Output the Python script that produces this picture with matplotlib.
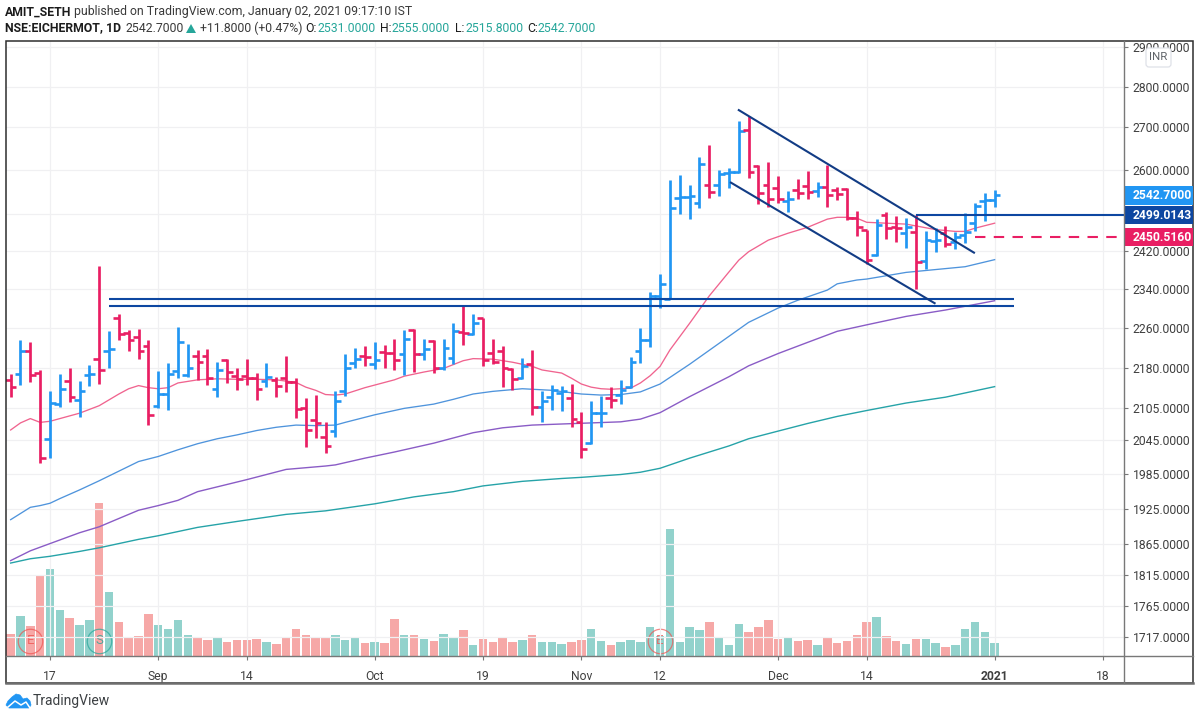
import matplotlib
matplotlib.use("Agg")
import matplotlib.pyplot as plt
from matplotlib.patches import Rectangle, FancyBboxPatch, Polygon
import numpy as np

plt.rcParams['font.family'] = ['Roboto', 'DejaVu Sans']

# daily bars, index 0 = 17 Aug 2020, first bar is index -4
bar_index = list(range(-4, 97))
opens = [2158, 2169, 2213, 2171, 2047, 2112, 2155, 2120, 2168, 2199, 2213, 2279, 2249, 2241, 2224, 2109, 2131, 2175, 2167, 2204,
         2204, 2140, 2197, 2166, 2166, 2161, 2155, 2158, 2161, 2153, 2104, 2083, 2052, 2063, 2136, 2190, 2204, 2188, 2212, 2211,
         2208, 2255, 2209, 2234, 2180, 2201, 2251, 2247, 2279, 2211, 2213, 2178, 2161, 2188, 2107, 2125, 2132, 2124, 2078, 2040,
         2095, 2123, 2130, 2144, 2213, 2235, 2325, 2318, 2537, 2538, 2526, 2566, 2566, 2594, 2596, 2694, 2610, 2566, 2558, 2529,
         2554, 2563, 2552, 2560, 2554, 2556, 2491, 2465, 2411, 2498, 2471, 2458, 2460, 2398, 2442, 2459, 2439, 2454, 2480, 2529, 2531]
highs = [2169, 2236, 2231, 2177, 2137, 2169, 2180, 2155, 2186, 2388, 2253, 2288, 2256, 2257, 2235, 2175, 2190, 2261, 2227, 2216,
         2217, 2193, 2198, 2180, 2198, 2171, 2190, 2164, 2204, 2162, 2123, 2130, 2079, 2137, 2209, 2219, 2224, 2231, 2226, 2237,
         2256, 2257, 2237, 2235, 2237, 2269, 2304, 2287, 2279, 2237, 2223, 2180, 2201, 2216, 2137, 2148, 2146, 2150, 2098, 2117,
         2128, 2144, 2157, 2203, 2259, 2333, 2370, 2577, 2589, 2565, 2631, 2658, 2600, 2605, 2716, 2728, 2611, 2619, 2586, 2552,
         2579, 2598, 2573, 2611, 2561, 2558, 2507, 2466, 2489, 2505, 2496, 2492, 2498, 2463, 2469, 2474, 2461, 2503, 2525, 2547, 2555]
lows = [2125, 2148, 2153, 2005, 2014, 2107, 2116, 2088, 2146, 2150, 2181, 2235, 2213, 2198, 2073, 2105, 2101, 2161, 2164, 2157,
        2148, 2125, 2152, 2139, 2148, 2119, 2145, 2125, 2134, 2086, 2033, 2050, 2022, 2051, 2128, 2180, 2184, 2179, 2181, 2176,
        2167, 2174, 2196, 2171, 2177, 2188, 2225, 2245, 2185, 2188, 2144, 2139, 2159, 2091, 2079, 2101, 2100, 2070, 2014, 2039,
        2070, 2104, 2112, 2143, 2191, 2222, 2301, 2318, 2501, 2489, 2513, 2535, 2540, 2558, 2594, 2581, 2522, 2515, 2524, 2505,
        2533, 2533, 2538, 2515, 2531, 2487, 2452, 2392, 2409, 2445, 2439, 2426, 2340, 2381, 2417, 2428, 2424, 2436, 2463, 2484, 2515.8]
closes = [2144, 2213, 2167, 2014, 2114, 2140, 2126, 2137, 2170, 2177, 2218, 2247, 2236, 2214, 2092, 2131, 2169, 2231, 2181, 2193,
          2162, 2177, 2174, 2159, 2161, 2140, 2164, 2146, 2153, 2102, 2064, 2077, 2035, 2118, 2180, 2199, 2202, 2197, 2210, 2196,
          2238, 2209, 2217, 2180, 2219, 2253, 2249, 2269, 2196, 2193, 2180, 2159, 2184, 2107, 2117, 2139, 2137, 2085, 2030, 2095,
          2096, 2120, 2139, 2193, 2235, 2325, 2350, 2513, 2539, 2541, 2615, 2549, 2590, 2596, 2692, 2596, 2547, 2534, 2533, 2533,
          2547, 2550, 2560, 2544, 2545, 2491, 2471, 2400, 2476, 2469, 2469, 2471, 2395, 2443, 2444, 2435, 2450, 2461, 2518, 2531, 2542.7]
volumes = [21.7, 40, 29.7, 79.7, 87.3, 45.7, 38.3, 30.7, 35.7, 153.3, 64, 33.7, 19, 20, 42.3, 30.7, 26.7, 35.7, 21, 19,
           16.3, 19, 13.7, 16.3, 16.3, 17.3, 14.3, 11.7, 18.3, 26.7, 21, 19, 19, 21, 16.3, 19, 13.3, 14.3, 13.3, 37.3,
           21, 21, 17.3, 15.3, 22, 19, 25.7, 11.3, 17.3, 14.3, 18.3, 14.3, 16.3, 21, 14.3, 14.3, 12.3, 14.3, 16.3, 26.7,
           15.3, 11.3, 14.3, 16.3, 14.3, 28.7, 20, 126.7, 14.3, 28.7, 25.7, 33.7, 19, 11.3, 32.3, 24, 28.7, 35.7, 17.3, 18.3,
           15.3, 16.3, 10.7, 18.3, 13.3, 15.3, 21, 33.7, 39.3, 20, 15.3, 12.3, 17.3, 17.3, 13.3, 8.7, 10.7, 26.7, 33.7, 24, 13.3]

# moving averages, read at knots
ma20_x = [-4, -3, -2, -1, 0, 1, 3, 5, 7, 8, 9, 10, 11, 12, 13, 15, 17, 19, 21, 23, 25, 26, 27, 28, 29, 30, 32, 35, 36, 38, 40, 42, 43, 45, 47, 49,
          50, 52, 53, 54, 55, 56, 57, 59, 60, 61, 62, 63, 65, 67, 69, 70, 71, 73, 75, 77, 79, 80, 81, 82, 83, 85, 87, 88, 90, 92, 93, 94, 96]
ma20_y = [2064, 2077, 2085, 2078, 2080, 2085, 2095, 2109, 2131, 2141, 2147, 2143, 2141, 2143, 2152, 2158, 2160, 2159, 2159, 2158, 2153, 2144, 2138, 2130, 2129, 2131, 2143, 2158, 2165, 2173, 2180, 2195, 2199, 2198, 2192, 2184,
          2177, 2171, 2161, 2150, 2144, 2141, 2140, 2142, 2152, 2166, 2184, 2216, 2269, 2325, 2375, 2400, 2418, 2443, 2458, 2471, 2489, 2493, 2493, 2491, 2482, 2480, 2478, 2474, 2466, 2462, 2462, 2469, 2480]
ma50_x = [-4, -2, -1, 0, 1, 3, 5, 9, 11, 13, 15, 17, 19, 21, 23, 25, 27, 29, 30, 33, 36, 39, 41, 43, 45, 48, 51, 54, 56, 58, 60, 62, 65, 69, 71, 74, 76, 79, 80, 82, 83, 87, 89, 93, 96]
ma50_y = [1906, 1927, 1930, 1934, 1942, 1957, 1973, 2007, 2016, 2028, 2039, 2048, 2055, 2063, 2069, 2073, 2072, 2073, 2078, 2092, 2104, 2112, 2121, 2131, 2136, 2141, 2138, 2131, 2129, 2130, 2135, 2150, 2188, 2243, 2271, 2300, 2316, 2337, 2350, 2358, 2360, 2374, 2378, 2386, 2401]
ma100_x = [-4, -2, -1, 3, 5, 7, 9, 11, 13, 15, 20, 24, 28, 29, 32, 35, 39, 43, 46, 49, 52, 55, 58, 60, 62, 65, 69, 71, 74, 77, 80, 83, 87, 91, 96]
ma100_y = [1838, 1854, 1860, 1884, 1894, 1908, 1922, 1930, 1939, 1954, 1975, 1993, 1999, 2001, 2013, 2024, 2040, 2059, 2068, 2073, 2075, 2077, 2079, 2084, 2096, 2126, 2164, 2185, 2209, 2231, 2253, 2266, 2283, 2296, 2315]
ma200_x = [-4, -2, 0, 3, 5, 9, 11, 15, 19, 24, 28, 33, 37, 41, 44, 48, 52, 54, 58, 60, 62, 65, 69, 71, 74, 77, 80, 83, 87, 91, 96]
ma200_y = [1834, 1841, 1845, 1853, 1859, 1873, 1879, 1893, 1903, 1915, 1921, 1933, 1945, 1954, 1964, 1972, 1977, 1979, 1984, 1988, 1995, 2013, 2035, 2048, 2062, 2076, 2089, 2100, 2114, 2125, 2145]

# drawn support levels and the falling channel
support_prices = [2318, 2304]
support_span = [6, 98]
channel_top_x = [70, 93.9]
channel_top_y = [2742, 2416]
channel_low_x = [69.2, 89.9]
channel_low_y = [2571, 2310]
breakout_price = 2499.0143
breakout_start = 88
stop_price = 2450.516
stop_start = 94
last_price = 2542.7

price_ticks = [2900, 2800, 2700, 2600, 2500, 2420, 2340, 2260, 2180, 2105, 2045, 1985, 1925, 1865, 1815, 1765, 1717]
date_ticks = [0, 11, 20, 33, 44, 54, 62, 74, 83, 96, 107]
date_labels = ['17', 'Sep', '14', 'Oct', '19', 'Nov', '12', 'Dec', '14', '2021', '18']

# earnings / split badges: bar index, letter, colour
badge_index = [-2, 5, 62]
badge_letter = ['E', 'S', 'E']
badge_color = ['#ef5350', '#26a69a', '#ef5350']

BLUE = '#2196f3'
RED = '#e91e63'
NAVY = '#0d47a1'
TEXT = '#3f3f3f'
W, H = 1200, 719

fig = plt.figure(figsize=(W / 100, H / 100), dpi=100, facecolor='white')
ax = fig.add_axes([6 / W, 1 - 656 / H, 1118 / W, 615 / H])
vol_ax = ax.twinx()
ax.set_zorder(2)
vol_ax.set_zorder(1)
ax.patch.set_visible(False)

x = np.array(bar_index)
o, h, l, c = map(np.array, (opens, highs, lows, closes))
up = c >= o

# volume pane under the prices
vol_ax.bar(x[up], np.array(volumes)[up], width=0.86, color='#26a69a', alpha=0.5, linewidth=0)
vol_ax.bar(x[~up], np.array(volumes)[~up], width=0.86, color='#ef5350', alpha=0.5, linewidth=0)
vol_ax.set_ylim(0, 615)
vol_ax.set_yticks([])
for i, letter, col in zip(badge_index, badge_letter, badge_color):
    vol_ax.plot([i], [15], marker='o', ms=17.6, mfc='none', mec=col, mew=0.9, alpha=0.7, ls='none')
    vol_ax.text(i, 15, letter, color=col, fontsize=9.5, ha='center', va='center', alpha=0.8)

# moving averages
ax.plot(ma20_x, ma20_y, color='#f0648f', lw=0.95, zorder=3)
ax.plot(ma50_x, ma50_y, color='#4f94dc', lw=0.95, zorder=3)
ax.plot(ma100_x, ma100_y, color='#8a5cc6', lw=1.0, zorder=3)
ax.plot(ma200_x, ma200_y, color='#26a3a8', lw=1.0, zorder=3)

# ohlc bars
for mask, col in ((up, BLUE), (~up, RED)):
    ax.vlines(x[mask], l[mask], h[mask], color=col, lw=1.95, zorder=4)
    ax.hlines(o[mask], x[mask] - 0.58, x[mask], color=col, lw=1.9, zorder=4)
    ax.hlines(c[mask], x[mask], x[mask] + 0.58, color=col, lw=1.9, zorder=4)

# drawn lines
for p in support_prices:
    ax.plot(support_span, [p, p], color=NAVY, lw=1.5, zorder=5, solid_capstyle='butt')
ax.plot(channel_top_x, channel_top_y, color='#123c85', lw=1.5, zorder=5)
ax.plot(channel_low_x, channel_low_y, color='#123c85', lw=1.5, zorder=5)

xmin, xmax = (6 - 50) / 9.84, (1124 - 50) / 9.84
ax.plot([breakout_start, xmax], [breakout_price] * 2, color=NAVY, lw=1.5, zorder=5, solid_capstyle='butt')
ax.plot([stop_start, xmax], [stop_price] * 2, color=RED, lw=1.5, ls=(0, (5, 4)), zorder=5)

ax.set_yscale('log')
ax.set_ylim(1688.7, 2915.5)
ax.set_xlim(xmin, xmax)
ax.yaxis.tick_right()
ax.set_yticks(price_ticks)
# the 2500 line keeps its grid, its label sits behind the price boxes
ax.set_yticklabels(['' if p == 2500 else '%.4f' % p for p in price_ticks])
ax.yaxis.set_minor_locator(matplotlib.ticker.NullLocator())
ax.set_xticks(date_ticks)
ax.set_xticklabels(date_labels)
for lab, txt in zip(ax.get_xticklabels(), date_labels):
    if txt == '2021':
        lab.set_color('#1c1c1c')
        lab.set_fontweight('bold')
ax.tick_params(axis='y', length=3, width=0.8, color='#787878', labelcolor=TEXT, labelsize=8.7, pad=3.4)
ax.tick_params(axis='x', length=3, width=0.8, color='#787878', labelcolor=TEXT, labelsize=8.7, pad=7)
ax.grid(True, color='#f0f0f2', lw=0.9)
ax.set_axisbelow(True)
for ax_ in (ax, vol_ax):
    for s in ax_.spines.values():
        s.set_visible(False)

# frame, price labels, header and footer, placed in pixels
top = fig.add_axes([0, 0, 1, 1], zorder=10)
top.set_xlim(0, W)
top.set_ylim(H, 0)
top.axis('off')

top.add_patch(Rectangle((6, 41), 1187, 642, fill=False, ec='#2e2e2e', lw=1.1))
top.plot([6, 1193], [683, 683], color='#6e6e6e', lw=1.8)
top.plot([1124, 1124], [41, 683], color='#787878', lw=1.0)
top.plot([6, 1193], [656, 656], color='#787878', lw=1.0)

def price_to_px(p):
    return H - ax.transData.transform((0, p))[1]

for price, col, y0, y1 in ((last_price, BLUE, -9, 9.5), (breakout_price, NAVY, -8.5, 9.5), (stop_price, RED, -8.7, 9.3)):
    py = price_to_px(price)
    top.add_patch(Rectangle((1124.5, py + y0), 68, y1 - y0, fc=col, ec='none'))
    top.text(1133, py + 0.5, '%.4f' % price, color='white', fontsize=8.7, fontweight='bold', va='center', ha='left')

top.add_patch(FancyBboxPatch((1148, 50), 21, 15, boxstyle='round,pad=2,rounding_size=3', fc='white', ec='#dfe1e8', lw=0.9))
top.text(1158.5, 57, 'INR', color='#5f6368', fontsize=8.2, ha='center', va='center')

def head(px, py, s, col='#3a3a3a', bold=False):
    top.text(px, py, s, color=col, fontsize=8.8, fontweight='bold' if bold else 'normal', ha='left', va='center')

TEAL = '#26a69a'
head(5, 12, 'AMIT_SETH', '#1c1c1c', True)
head(74, 12, 'published on TradingView.com, January 02, 2021 09:17:10 IST')
head(5, 28, 'NSE:EICHERMOT, 1D', '#1c1c1c', True)
head(126, 28, '2542.7000')
top.add_patch(Polygon([(186, 33), (196, 33), (191, 24)], fc=TEAL, ec='none'))
head(200, 28, '+11.8000 (+0.47%)')
for lx, vx, name, val in ((305, 318, 'O:', '2531.0000'), (380, 392, 'H:', '2555.0000'),
                          (455, 466, 'L:', '2515.8000'), (527, 538, 'C:', '2542.7000')):
    head(lx, 28, name, '#1c1c1c')
    head(vx, 28, val, TEAL)

# logo
top.add_patch(Polygon([(6, 705), (8, 701), (12, 697), (16, 694), (20, 695), (23, 699), (27, 698), (30, 701),
                       (31, 705), (29, 708), (9, 708)], fc=BLUE, ec=BLUE, lw=0.5, joinstyle='round'))
top.plot([8, 15, 21, 26, 30], [707, 701, 705, 702, 708], color='white', lw=1.1)
top.text(33, 701, 'TradingView', color='#3c4043', fontsize=10, va='center', ha='left')

fig.savefig('out.png', dpi=100)
